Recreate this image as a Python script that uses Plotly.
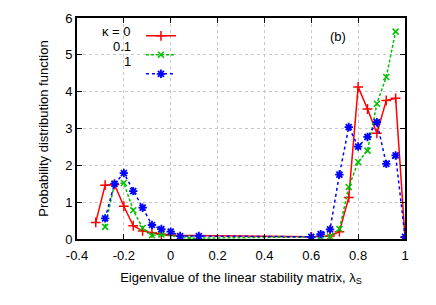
import plotly.graph_objects as go

# kappa = 0
x_k0 = [-0.32, -0.28, -0.24, -0.20, -0.16, -0.12, -0.08, -0.04, 0.00, 0.60, 0.68, 0.72, 0.76, 0.80, 0.84, 0.88, 0.92, 0.96, 1.00]
y_k0 = [0.45, 1.46, 1.48, 0.89, 0.36, 0.22, 0.17, 0.13, 0.10, 0.06, 0.08, 0.20, 1.13, 4.13, 3.53, 2.87, 3.76, 3.82, 0.05]
# kappa = 0.1
x_k01 = [-0.28, -0.24, -0.20, -0.16, -0.12, -0.08, -0.04, 0.08, 0.64, 0.68, 0.72, 0.76, 0.80, 0.84, 0.88, 0.92, 0.96]
y_k01 = [0.33, 1.50, 1.52, 0.78, 0.30, 0.10, 0.12, 0.02, 0.06, 0.07, 0.27, 1.41, 2.09, 2.40, 3.67, 4.40, 5.63]
# kappa = 1
x_k1 = [-0.28, -0.24, -0.20, -0.16, -0.12, -0.08, -0.04, 0.00, 0.04, 0.12, 0.60, 0.64, 0.68, 0.72, 0.76, 0.80, 0.84, 0.88, 0.92, 0.96, 1.00]
y_k1 = [0.56, 1.50, 1.79, 1.30, 0.85, 0.38, 0.27, 0.20, 0.08, 0.08, 0.06, 0.13, 0.26, 1.75, 3.04, 2.51, 2.77, 3.17, 2.04, 2.27, 0.06]

labels = ["κ = 0", "0.1", "1"]
x_ticks = [-0.4, -0.2, 0, 0.2, 0.4, 0.6, 0.8, 1]
y_ticks = [0, 1, 2, 3, 4, 5, 6]

FONT = "Liberation Sans, Arial, sans-serif"

fig = go.Figure()
fig.add_trace(go.Scatter(x=x_k0, y=y_k0, mode="lines+markers", name=" ",
                         line=dict(color="#ff0000", width=1.5),
                         marker=dict(symbol="cross-thin", size=7, line=dict(color="#ff0000", width=1.5))))
fig.add_trace(go.Scatter(x=x_k01, y=y_k01, mode="lines+markers", name=" ",
                         line=dict(color="#00c000", width=1.5, dash="3px,2px"),
                         marker=dict(symbol="x-thin", size=6, line=dict(color="#00c000", width=1.5))))
fig.add_trace(go.Scatter(x=x_k1, y=y_k1, mode="lines+markers", name=" ",
                         line=dict(color="#0000ff", width=1.5, dash="3px,3px"),
                         marker=dict(symbol="asterisk-open", size=7, line=dict(color="#0000ff", width=1.8))))

axis_common = dict(showline=True, linecolor="black", linewidth=2, mirror="ticks",
                   ticks="inside", ticklen=5, tickcolor="black", tickwidth=1,
                   showgrid=True, gridcolor="#c8c8c8", griddash="dot", gridwidth=1,
                   zeroline=False, tickfont=dict(family=FONT, size=13, color="black"))

fig.update_xaxes(range=[-0.4, 1], tickvals=x_ticks, ticktext=["-0.4", "-0.2", "0", "0.2", "0.4", "0.6", "0.8", "1"],
                 ticklabelstandoff=3,
                 title=dict(text="Eigenvalue of the linear stability matrix, λ<sub>S</sub>",
                            font=dict(family=FONT, size=13, color="black"), standoff=11),
                 **axis_common)
fig.update_yaxes(range=[0, 6], tickvals=y_ticks,
                 title=dict(text="Probability distribution function",
                            font=dict(family=FONT, size=13, color="black"), standoff=14),
                 **axis_common)

# legend labels (gnuplot style: text left of sample)
for i, lab in enumerate(labels):
    fig.add_annotation(text=lab, xref="paper", yref="paper", x=0.172, y=0.941 - i * 0.07,
                       xanchor="right", yanchor="middle", showarrow=False,
                       font=dict(family=FONT, size=13, color="black"))

fig.add_annotation(text="(b)", x=0.715, y=5.5, xref="x", yref="y", showarrow=False,
                   font=dict(family=FONT, size=13, color="black"))

fig.update_layout(width=436, height=305, margin=dict(l=77, r=31, t=18, b=66),
                  plot_bgcolor="white", paper_bgcolor="white",
                  showlegend=True,
                  legend=dict(x=0.195, y=0.985, xanchor="left", yanchor="top",
                              bgcolor="rgba(0,0,0,0)", itemwidth=30,
                              font=dict(family=FONT, size=6), tracegroupgap=0))

fig.write_html("out.html", config={"displayModeBar": False},
               post_script="document.body.style.margin='0';")
